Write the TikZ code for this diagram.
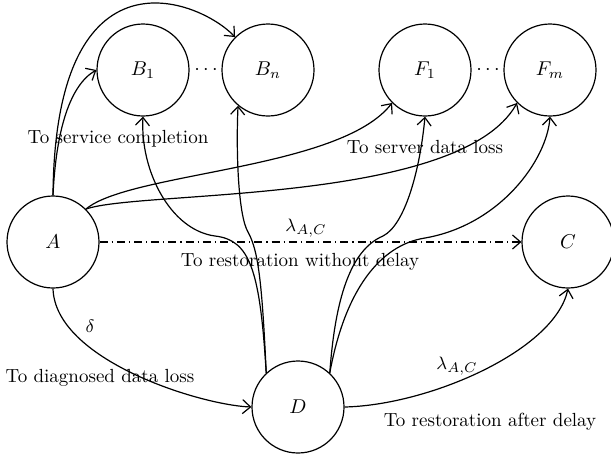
\documentclass[tikz,border=0pt]{standalone}
\usepackage{tikz}
\usetikzlibrary{positioning,arrows.meta}

\begin{document}
\begin{tikzpicture}[
						x=0.5pt, y=-0.5pt,
						state/.style={circle, draw=black, semithick, minimum size=46pt,
							inner sep=0pt, font=\normalsize},
						lbl/.style={font=\fontsize{9.5}{11}\selectfont, inner sep=1pt},
						arrow/.style={-{Straight Barb[length=4pt,width=7pt]}, semithick},
						dashdot/.style={-{Straight Barb[length=4pt,width=7pt]}, semithick,
							dash pattern=on 4pt off 2pt on 0.6pt off 2pt}
						]
						\useasboundingbox (0,0) rectangle (611,456);
						\node[state] (B1) at (143,70) {$B_1$};
						\node[state] (Bn) at (268,70) {$B_n$};
						\node[state] (F1) at (425,70) {$F_1$};
						\node[state] (Fm) at (550,70) {$F_m$};
						\node[state] (A) at (53,242) {$A$};
						\node[state] (C) at (568,242) {$C$};
						\node[state] (D) at (298,407) {$D$};
						\node (dotsB) at (206,70) {$\cdots$};
						\node (dotsF) at (488,70) {$\cdots$};
						% labels
						\node[lbl] (service) at (118,139) {To service completion};
						\node[lbl] (server) at (425,147) {To server data loss};
						\node[lbl] (lamAC) at (306,228) {$\lambda_{A,C}$};
						\node[lbl] (without) at (300,262) {To restoration without delay};
						\node[lbl] (delta) at (90,326) {$\delta$};
						\node[lbl] (diag) at (100,378) {To diagnosed data loss};
						\node[lbl] (lamDC) at (457,366) {$\lambda_{A,C}$};
						\node[lbl] (after) at (490,422) {To restoration after delay};
						% edges from A
						\draw[arrow] (A.north) .. controls (56,130) and (70,85) .. (B1.west);
						\draw[arrow] (A.north) .. controls (55,-60) and (200,0) .. (Bn.135);
						\draw[arrow] (A.45) .. controls (130,172) and (340,170) .. (F1.225);
						\draw[arrow] (A.45) .. controls (140,190) and (460,205) .. (Fm.225);
						\draw[dashdot] (A.east) -- (C.west);
						\draw[arrow] (A.south) .. controls (55,360) and (200,405) .. (D.west);
						% edges from D
						\draw[arrow] (D.133) .. controls (260,270) and (250,240) .. (215,236)
							.. controls (170,230) and (140,170) .. (B1.south);
						\draw[arrow] (D.133) .. controls (262,280) and (258,250) .. (248,232)
							.. controls (238,215) and (236,150) .. (Bn.230);
						\draw[arrow] (D.47) .. controls (335,300) and (350,250) .. (383,236)
							.. controls (405,225) and (420,170) .. (F1.south);
						\draw[arrow] (D.47) .. controls (345,290) and (380,245) .. (425,238)
							.. controls (500,225) and (547,160) .. (Fm.south);
						\draw[arrow] (D.east) .. controls (430,405) and (555,350) .. (C.south);
					\end{tikzpicture}
\end{document}
